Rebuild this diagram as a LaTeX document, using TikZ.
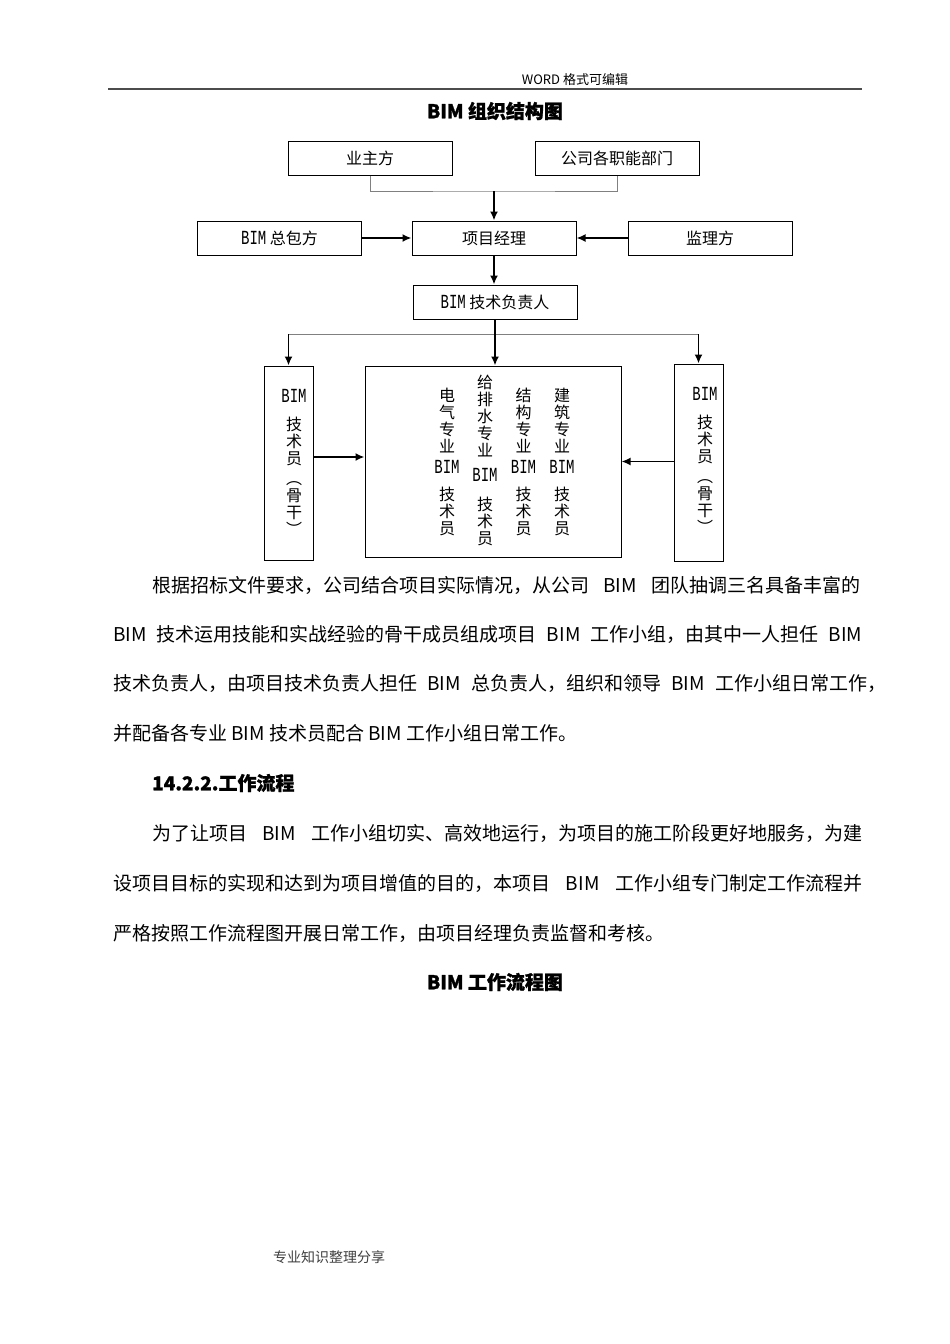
\documentclass[tikz,border=0pt]{standalone}
\usepackage{fontspec}
\setmainfont{Noto Sans CJK SC}
\newfontfamily\titlefont{Noto Sans CJK SC}[FakeBold=1.2]
\newfontfamily\boxlatin{Liberation Mono}[Scale=1.25, FakeStretch=0.7]
\usetikzlibrary{arrows.meta}
\XeTeXlinebreaklocale "zh"
\XeTeXlinebreakskip=0pt plus 1pt
\newcommand{\bim}{{\boxlatin BIM}}
\newcommand{\bodyline}[2]{\makebox[#1][s]{#2}}
\tikzset{
    box/.style={draw, line width=1pt, minimum width=164pt, minimum height=34pt, inner sep=0pt, font=\fontsize{16}{17}\selectfont},
    tallbox/.style={draw, line width=1pt, inner sep=0pt},
    vtext/.style={align=center, inner sep=0pt, font=\fontsize{16}{17}\selectfont},
    bodytext/.style={anchor=west, inner sep=0pt, font=\fontsize{19}{19}\selectfont},
    titletext/.style={inner sep=0pt, font=\fontsize{19}{19}\selectfont\titlefont\bfseries},
    link/.style={draw, gray, line width=1pt},
    arrow/.style={draw, line width=1.8pt, -{Latex[length=9pt,width=8pt]}}
}
\begin{document}
\begin{tikzpicture}[x=1pt, y=-1pt]
    \useasboundingbox[fill=white] (0,0) rectangle (950,1344);
    \node[inner sep=0pt, font=\fontsize{13}{13}\selectfont] (header) at (575,80) {WORD 格式可编辑};
    \draw[gray!60!black, line width=1.5pt] (108,89) -- (862,89);
    \node[titletext] (title) at (495,111) {BIM 组织结构图};

    \node[box] (owner) at (370,158) {业主方};
    \node[box] (dept) at (617,158) {公司各职能部门};
    \node[box] (contractor) at (279.5,238) {\bim\ 总包方};
    \node[box] (pm) at (494,238) {项目经理};
    \node[box] (supervisor) at (710,238) {监理方};
    \node[box] (techlead) at (495,302) {\bim\ 技术负责人};

    \node[tallbox, minimum width=49pt, minimum height=194pt] (techL) at (288.5,463) {};
    \node[tallbox, minimum width=256pt, minimum height=191pt] (team) at (493,461.5) {};
    \node[tallbox, minimum width=49pt, minimum height=197pt] (techR) at (698.5,462.5) {};

    \node[vtext] (techLtext) at (294,462) {\bim\\[11pt]技\\术\\员\\[3pt]︵\\骨\\干\\︶};
    \node[vtext] (techRtext) at (705,460.5) {\bim\\[11pt]技\\术\\员\\[3pt]︵\\骨\\干\\︶};
    \node[vtext] (elec) at (447,462) {电\\气\\专\\业\\[4pt]\bim\\[10pt]技\\术\\员};
    \node[vtext] (plumb) at (485,460.5) {给\\排\\水\\专\\业\\[8pt]\bim\\[12pt]技\\术\\员};
    \node[vtext] (struct) at (523.5,462) {结\\构\\专\\业\\[4pt]\bim\\[10pt]技\\术\\员};
    \node[vtext] (arch) at (562,462) {建\\筑\\专\\业\\[4pt]\bim\\[10pt]技\\术\\员};

    \coordinate (merge) at (494,191);
    \coordinate (hub) at (495,334);
    \draw[link] (owner) |- (merge) -| (dept);
    \draw[arrow] (merge) -- (pm);
    \draw[arrow] (contractor) -- (pm);
    \draw[arrow] (supervisor) -- (pm);
    \draw[arrow] (pm) -- (pm |- techlead.north);
    \draw[line width=1.8pt] (techlead) -- (hub);
    \draw[link] (techL.north |- hub) -- (techR.north |- hub);
    \draw[arrow] (techL.north |- hub) -- (techL);
    \draw[arrow] (hub) -- (hub |- team.north);
    \draw[arrow] (techR.north |- hub) -- (techR);
    \draw[arrow] ([yshift=6pt]techL.east) -- ([yshift=6pt]techL.east -| team.west);
    \draw[arrow] ([yshift=1pt]techR.west) -- ([yshift=1pt]techR.west -| team.east);

    \node[bodytext] (p1a) at (152,585) {\bodyline{708pt}{根据招标文件要求，公司结合项目实际情况，从公司 BIM 团队抽调三名具备丰富的}};
    \node[bodytext] (p1b) at (113,634) {\bodyline{749pt}{BIM 技术运用技能和实战经验的骨干成员组成项目 BIM 工作小组，由其中一人担任 BIM}};
    \node[bodytext] (p1c) at (113,684) {\bodyline{773pt}{技术负责人，由项目技术负责人担任 BIM 总负责人，组织和领导 BIM 工作小组日常工作，}};
    \node[bodytext] (p1d) at (113,733) {并配备各专业 BIM 技术员配合 BIM 工作小组日常工作。};
    \node[bodytext, font=\fontsize{19}{19}\selectfont\titlefont\bfseries] (sec) at (152,783) {14.2.2.工作流程};
    \node[bodytext] (p2a) at (152,833) {\bodyline{710pt}{为了让项目 BIM 工作小组切实、高效地运行，为项目的施工阶段更好地服务，为建}};
    \node[bodytext] (p2b) at (113,883) {\bodyline{749pt}{设项目目标的实现和达到为项目增值的目的，本项目 BIM 工作小组专门制定工作流程并}};
    \node[bodytext] (p2c) at (113,933) {严格按照工作流程图开展日常工作，由项目经理负责监督和考核。};
    \node[titletext] (title2) at (495,982) {BIM 工作流程图};

    \node[inner sep=0pt, text=black!75, font=\fontsize{14}{14}\selectfont] (footer) at (329,1257) {专业知识整理分享};
\end{tikzpicture}
\end{document}
